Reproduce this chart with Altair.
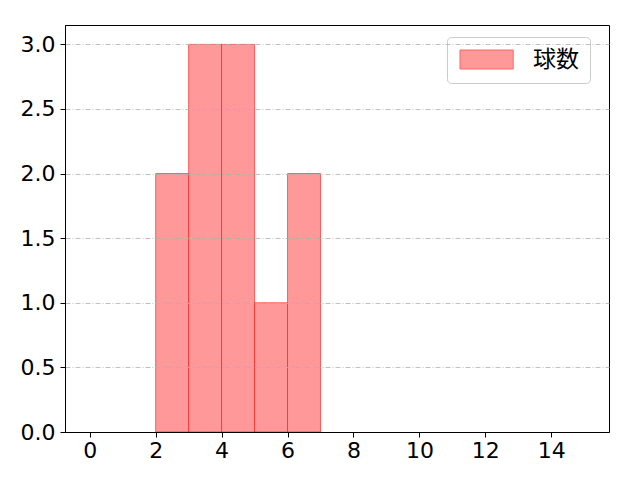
import altair as alt
import pandas as pd

bin_start = [2, 3, 4, 5, 6]
bin_end = [3, 4, 5, 6, 7]
counts = [2, 3, 3, 1, 2]
series = ["球数"] * 5

x_ticks = [0, 2, 4, 6, 8, 10, 12, 14]
y_ticks = [0.0, 0.5, 1.0, 1.5, 2.0, 2.5, 3.0]

TICK_FONT = "DejaVu Sans"
CJK_FONT = "Noto Sans CJK JP"

df = pd.DataFrame({"start": bin_start, "end": bin_end, "count": counts, "series": series})

bars = alt.Chart(df).mark_bar(
    stroke="red", strokeOpacity=0.55, strokeWidth=1, orient="vertical"
).encode(
    x=alt.X("start:Q",
            scale=alt.Scale(domain=[-0.75, 15.75], nice=False, zero=False, padding=0),
            axis=alt.Axis(values=x_ticks, grid=False, title=None,
                          labelPadding=3, zindex=2)),
    x2="end:Q",
    y=alt.Y("count:Q",
            scale=alt.Scale(domain=[0, 3.15], nice=False, padding=0),
            axis=alt.Axis(values=y_ticks, format=".1f", title=None,
                          grid=True, gridColor="#b0b0b0", gridWidth=0.8,
                          gridDash=[5, 2, 1, 2], labelPadding=5, zindex=1)),
    y2=alt.datum(0),
    color=alt.Color("series:N",
                    scale=alt.Scale(range=["#ff9999"]),
                    legend=alt.Legend(
                        title=None, orient="none", legendX=382, legendY=12,
                        # wide patch drawn from a 19px symbol box
                        symbolType="M-1,-1H4.6V1H-1Z", symbolSize=361,
                        symbolStrokeColor="#ff6666", symbolStrokeWidth=1,
                        labelFontSize=23, labelFont=CJK_FONT, labelOffset=52,
                        padding=11, fillColor="white", strokeColor="#cccccc",
                        cornerRadius=4)),
)

chart = bars.properties(
    width=544, height=407,
    autosize=alt.AutoSizeParams(type="none"),
    padding={"left": 57, "top": 17, "right": 23, "bottom": 40},
).configure_view(
    stroke="black", strokeWidth=1
).configure_axis(
    labelFont=TICK_FONT, labelFontSize=22, labelColor="black",
    tickColor="black", tickSize=5, domainColor="black"
).configure_legend(
    labelColor="black"
)

chart.save("out.html", embed_options={"renderer": "svg", "actions": False})
